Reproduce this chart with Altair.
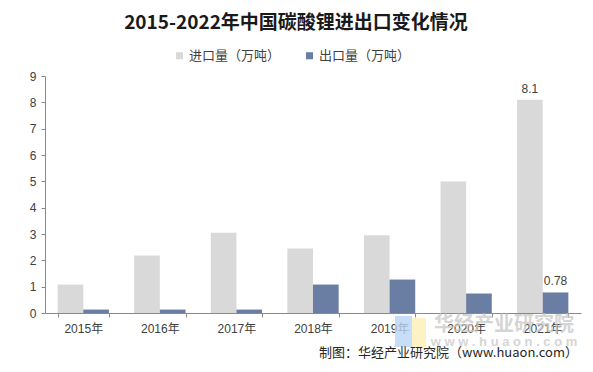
import altair as alt
import pandas as pd

years = ["2015年", "2016年", "2017年", "2018年", "2019年", "2020年", "2021年"]
series_names = ["进口量（万吨）", "出口量（万吨）"]
imports = [1.08, 2.18, 3.05, 2.45, 2.95, 4.99, 8.1]
exports = [0.13, 0.13, 0.13, 1.08, 1.27, 0.74, 0.78]
import_labels = ["", "", "", "", "", "", "8.1"]
export_labels = ["", "", "", "", "", "", "0.78"]
y_ticks = [0, 1, 2, 3, 4, 5, 6, 7, 8, 9]
colors = ["#D9D9D9", "#6A7EA4"]

title_text = "2015-2022年中国碳酸锂进出口变化情况"
source_text = "制图：华经产业研究院（www.huaon.com）"
wm_text = "华经产业研究院"
wm_url = "w w w . h u a o n . c o m"

rows = []
for i, yr in enumerate(years):
    rows.append({"year": yr, "series": series_names[0], "value": imports[i], "label": import_labels[i]})
    rows.append({"year": yr, "series": series_names[1], "value": exports[i], "label": export_labels[i]})
df = pd.DataFrame(rows)

FONT = "Liberation Sans, 'Noto Sans CJK SC', sans-serif"
CJK = "'Noto Sans CJK SC', sans-serif"

x_enc = alt.X(
    "year:N", sort=years,
    scale=alt.Scale(paddingInner=0.33, paddingOuter=0.165),
    axis=alt.Axis(title=None, labelAngle=0, tickBand="extent", domainColor="#898989",
                  tickColor="#898989", tickSize=4, labelPadding=6, labelFontSize=12,
                  labelColor="#404040", labelFont=FONT, grid=False),
)
xoff = alt.XOffset("series:N", sort=series_names, scale=alt.Scale(paddingInner=0, paddingOuter=0))
y_enc = alt.Y(
    "value:Q", scale=alt.Scale(domain=[0, 9], nice=False),
    axis=alt.Axis(title=None, values=y_ticks, domainColor="#898989", tickColor="#898989",
                  tickSize=4, labelPadding=5, labelFontSize=12, labelColor="#404040",
                  labelFont=FONT, grid=False),
)

bars = alt.Chart(df).mark_bar().encode(
    x=x_enc, xOffset=xoff, y=y_enc,
    color=alt.Color("series:N", sort=series_names,
                    scale=alt.Scale(domain=series_names, range=colors),
                    legend=alt.Legend(title=None, orient="none", legendX=128, legendY=-27,
                                      direction="horizontal", symbolType="square",
                                      symbolSize=50, symbolStrokeWidth=0,
                                      labelFontSize=13, labelFont=CJK, labelColor="#404040",
                                      columnPadding=22, labelOffset=3)),
)

labels = alt.Chart(df).transform_filter("datum.label != ''").mark_text(
    baseline="bottom", dy=-4, fontSize=12, font=FONT, color="#404040"
).encode(x=x_enc, xOffset=xoff, y=y_enc, text="label:N")

title = alt.Chart(pd.DataFrame({"t": [title_text]})).mark_text(
    fontSize=19, fontWeight="bold", font=CJK, color="#1a1a1a", baseline="middle", align="center"
).encode(x=alt.value(251), y=alt.value(-53), text="t:N")

source = alt.Chart(pd.DataFrame({"t": [source_text]})).mark_text(
    fontSize=13, font=CJK, color="#262626", baseline="middle", align="right"
).encode(x=alt.value(533), y=alt.value(277), text="t:N")

logo_blue = alt.Chart(pd.DataFrame({"k": [0]})).mark_rect(color="#B9D4F6", opacity=0.8).encode(
    x=alt.value(350), x2=alt.value(367), y=alt.value(240), y2=alt.value(271))
logo_yellow = alt.Chart(pd.DataFrame({"k": [0]})).mark_rect(color="#FCEFB4", opacity=0.8).encode(
    x=alt.value(367), x2=alt.value(381), y=alt.value(242), y2=alt.value(271))

wm1 = alt.Chart(pd.DataFrame({"t": [wm_text]})).mark_text(
    fontSize=20, fontWeight="bold", font=CJK, color="#C8C8C8", opacity=0.75,
    baseline="middle", align="center"
).encode(x=alt.value(459), y=alt.value(249), text="t:N")
wm2 = alt.Chart(pd.DataFrame({"t": [wm_url]})).mark_text(
    fontSize=13, fontWeight="bold", font=FONT, color="#C8C8C8", opacity=0.75,
    baseline="middle", align="center"
).encode(x=alt.value(459), y=alt.value(266), text="t:N")

chart = alt.layer(bars, labels, logo_blue, logo_yellow, wm1, wm2, title, source).properties(
    width=536, height=237,
    padding={"left": 37, "top": 68, "right": 3, "bottom": 50},
    autosize=alt.AutoSizeParams(type="none"),
    background="white",
).configure_view(stroke=None)

chart.save("out.html", embed_options={"renderer": "svg", "actions": False})
